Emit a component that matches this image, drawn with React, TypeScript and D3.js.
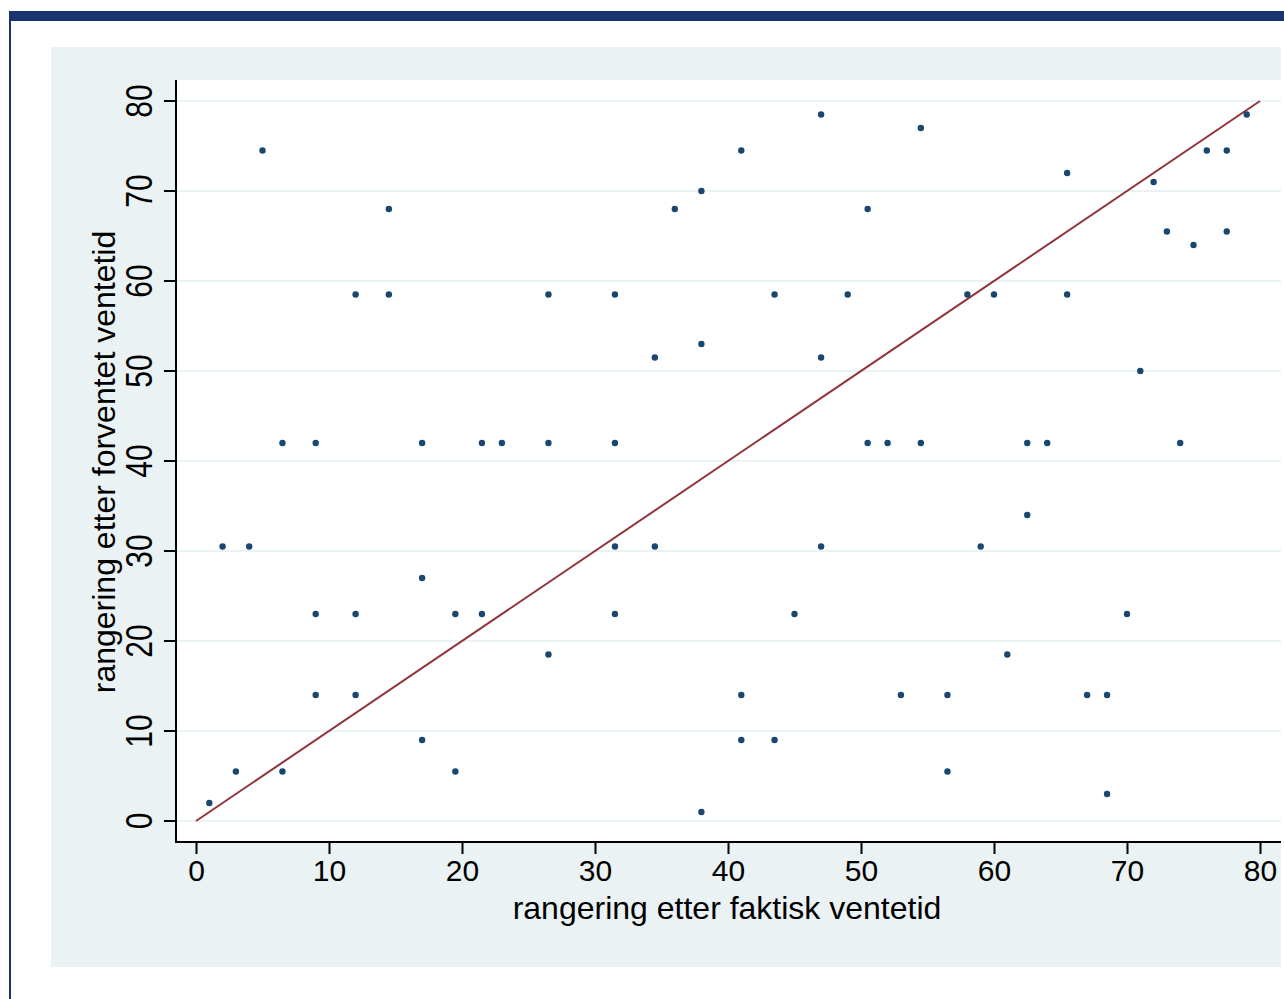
import React, { useRef, useEffect } from 'react';
import * as d3 from 'd3';

// rank by actual waiting time (x) vs rank by expected waiting time (y)
const faktisk = [
  1, 2, 3, 4, 5, 6.5, 6.5, 9, 9, 9, 12, 12, 12, 14.5, 14.5, 17, 17, 17, 19.5, 19.5,
  21.5, 21.5, 23, 26.5, 26.5, 26.5, 31.5, 31.5, 31.5, 31.5, 34.5, 34.5, 36, 38, 38, 38,
  41, 41, 41, 43.5, 43.5, 45, 47, 47, 47, 49, 50.5, 50.5, 52, 53, 54.5, 54.5, 56.5, 56.5,
  58, 59, 60, 61, 62.5, 62.5, 64, 65.5, 65.5, 67, 68.5, 68.5, 70, 71, 72, 73, 74, 75, 76,
  77.5, 77.5, 79,
];
const forventet = [
  2, 30.5, 5.5, 30.5, 74.5, 42, 5.5, 42, 23, 14, 58.5, 23, 14, 68, 58.5, 42, 27, 9, 23, 5.5,
  42, 23, 42, 58.5, 42, 18.5, 58.5, 42, 30.5, 23, 51.5, 30.5, 68, 70, 53, 1,
  74.5, 14, 9, 58.5, 9, 23, 78.5, 51.5, 30.5, 58.5, 68, 42, 42, 14, 77, 42, 14, 5.5,
  58.5, 30.5, 58.5, 18.5, 42, 34, 42, 72, 58.5, 14, 14, 3, 23, 50, 71, 65.5, 42, 64, 74.5,
  74.5, 65.5, 78.5,
];
const tickValues = [0, 10, 20, 30, 40, 50, 60, 70, 80];
const xTitle = 'rangering etter faktisk ventetid';
const yTitle = 'rangering etter forventet ventetid';

const App = () => {
  const chartRef = useRef<SVGSVGElement>(null);

  useEffect(() => {
    const svg = d3.select(chartRef.current);
    svg.selectAll('*').remove();

    const W = 1284;
    const H = 999;
    const bg = '#eaf2f3';
    const font = '"Liberation Sans", Arial, sans-serif';

    // outer frame
    svg.append('rect').attr('width', W).attr('height', H).attr('fill', '#ffffff');
    svg.append('rect').attr('x', 9).attr('y', 11).attr('width', W - 9).attr('height', 10).attr('fill', '#1b3370');
    svg.append('rect').attr('x', 9).attr('y', 11).attr('width', 2).attr('height', H - 11).attr('fill', '#1b3370');

    // graph region
    svg.append('rect').attr('x', 51).attr('y', 47).attr('width', 1230).attr('height', 920).attr('fill', bg);

    const plot = { left: 176, top: 80, right: 1281, bottom: 842 };
    svg.append('rect')
      .attr('x', plot.left).attr('y', plot.top)
      .attr('width', plot.right - plot.left).attr('height', plot.bottom - plot.top)
      .attr('fill', '#ffffff');

    const xScale = d3.scaleLinear().domain([0, 80]).range([196, 1260]);
    const yScale = d3.scaleLinear().domain([0, 80]).range([821, 101]);

    // grid lines
    svg.append('g')
      .selectAll('line')
      .data(tickValues)
      .join('line')
      .attr('x1', plot.left).attr('x2', plot.right)
      .attr('y1', (d) => yScale(d)).attr('y2', (d) => yScale(d))
      .attr('stroke', bg).attr('stroke-width', 2);

    // diagonal reference line
    svg.append('line')
      .attr('x1', xScale(0)).attr('y1', yScale(0))
      .attr('x2', xScale(80)).attr('y2', yScale(80))
      .attr('stroke', '#90353b').attr('stroke-width', 2);

    // points
    const pts = faktisk.map((x, i) => ({ x, y: forventet[i] }));
    svg.append('g')
      .selectAll('circle')
      .data(pts)
      .join('circle')
      .attr('cx', (d) => xScale(d.x))
      .attr('cy', (d) => yScale(d.y))
      .attr('r', 3.2)
      .attr('fill', '#1a476f');

    // axes
    const xAxis = d3.axisBottom(xScale).tickValues(tickValues).tickSize(12).tickSizeOuter(0).tickPadding(6);
    const gx = svg.append('g').attr('transform', `translate(0,${plot.bottom})`).call(xAxis);
    gx.select('.domain').remove();
    gx.selectAll('line').attr('stroke', '#000').attr('stroke-width', 2);
    gx.selectAll('text').attr('font-family', font).attr('font-size', 30).attr('fill', '#000');
    svg.append('line')
      .attr('x1', plot.left - 1).attr('x2', plot.right)
      .attr('y1', plot.bottom).attr('y2', plot.bottom)
      .attr('stroke', '#000').attr('stroke-width', 2);

    const gy = svg.append('g').attr('transform', `translate(${plot.left},0)`);
    gy.selectAll('line')
      .data(tickValues)
      .join('line')
      .attr('x1', -12).attr('x2', 0)
      .attr('y1', (d) => yScale(d)).attr('y2', (d) => yScale(d))
      .attr('stroke', '#000').attr('stroke-width', 2);
    gy.selectAll('text')
      .data(tickValues)
      .join('text')
      .attr('transform', (d) => `translate(-24,${yScale(d)}) rotate(-90) scale(1,1.2)`)
      .attr('text-anchor', 'middle')
      .attr('font-family', font)
      .attr('font-size', 30)
      .text((d) => d);
    svg.append('line')
      .attr('x1', plot.left).attr('x2', plot.left)
      .attr('y1', plot.top).attr('y2', plot.bottom + 1)
      .attr('stroke', '#000').attr('stroke-width', 2);

    // titles
    svg.append('text')
      .attr('x', 727).attr('y', 919)
      .attr('text-anchor', 'middle')
      .attr('font-family', font).attr('font-size', 32)
      .text(xTitle);
    svg.append('text')
      .attr('transform', `translate(115,462) rotate(-90)`)
      .attr('text-anchor', 'middle')
      .attr('font-family', font).attr('font-size', 32)
      .text(yTitle);
  }, []);

  return (
    <svg
      ref={chartRef}
      width={1284}
      height={999}
      style={{ position: 'absolute', left: 0, top: 0 }}
    ></svg>
  );
};

export default App;
